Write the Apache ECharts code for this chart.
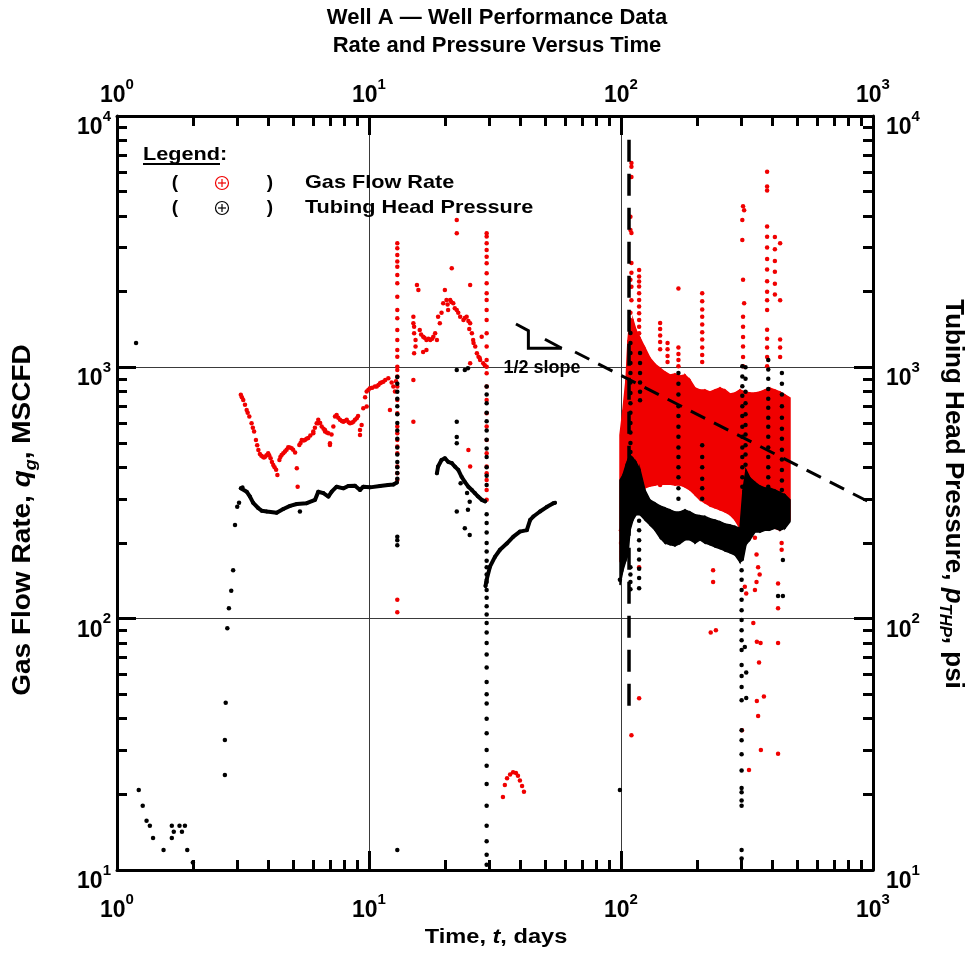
<!DOCTYPE html>
<html><head><meta charset="utf-8">
<script src="https://cdn.jsdelivr.net/npm/echarts@6/dist/echarts.min.js"></script>
<style>html,body{margin:0;padding:0;background:#fff}#c{width:970px;height:956px}</style>
</head><body><div id="c"></div>
<script>
// ---------------- tick values ----------------
const xMajor = [1, 10, 100, 1000];
const xMinor = [2,3,4,5,6,7,8,9,20,30,40,50,60,70,80,90,200,300,400,500,600,700,800,900];
const yMajor = [10, 100, 1000, 10000];
const yMinor = [20,30,40,50,60,70,80,90,200,300,400,500,600,700,800,900,2000,3000,4000,5000,6000,7000,8000,9000];

// ---------------- Gas flow rate (red) ----------------
const rateEarly = [[3.10,777],[3.13,760],[3.17,742],[3.22,710],[3.27,677],[3.30,660],[3.35,637],[3.42,599],[3.46,575],[3.50,555],[3.56,514],[3.60,490],[3.64,469],[3.69,452],[3.74,445],[3.79,441],[3.83,438],[3.87,441],[3.92,447],[3.98,455],[4.02,446],[4.07,435],[4.12,420],[4.17,409],[4.22,400],[4.28,391],[4.33,373],[4.41,428],[4.45,440],[4.50,448],[4.57,455],[4.64,462],[4.71,470],[4.78,481],[4.85,480],[4.93,477],[5.00,470],[5.09,458],[5.17,397],[5.21,335],[5.29,491],[5.35,500],[5.41,514],[5.50,512],[5.57,514],[5.65,520],[5.74,523],[5.85,535],[6.01,555],[6.01,547],[6.10,575],[6.20,599],[6.29,618],[6.29,599],[6.40,600],[6.49,581],[6.60,570],[6.69,555],[6.69,563],[6.80,550],[6.90,547],[7.00,491],[7.00,499],[7.10,540],[7.22,581],[7.33,637],[7.44,646],[7.55,630],[7.67,618],[7.80,612],[7.91,608],[8.00,612],[8.16,618],[8.30,605],[8.41,599],[8.55,602],[8.67,608],[8.80,618],[8.94,627],[9.05,640],[9.21,538],[9.21,563],[9.35,590],[9.49,688],[9.65,760],[9.79,801],[9.79,698],[9.95,815],[10.09,826],[10.3,830],[10.56,838],[10.73,838],[10.9,850],[11.06,864],[11.2,870],[11.40,877],[11.6,890],[11.93,905],[12.11,677],[12.3,870],[12.49,838],[12.68,801],[12.8,880]];
const rateStreak13 = [[12.95,3119],[12.95,2978],[12.95,2800],[12.95,2634],[12.95,2515],[12.95,2332],[12.95,2161],[12.95,1911],[12.95,1692],[12.95,1568],[12.95,1408],[12.95,1285],[12.95,1173],[12.95,1103],[12.95,1006],[12.95,976],[12.95,919],[12.95,838],[12.95,742],[12.95,657],[12.95,581],[12.95,547],[12.95,514],[12.95,484],[12.95,455],[12.95,403],[12.95,379],[12.95,356],[12.95,119],[12.95,106]];
const rateCluster = [[15.0,1591],[15.0,1496],[15.1,1450],[15.1,1367],[15.3,1285],[15.3,1209],[15.1,1138],[15.0,891],[15.0,608],[15.5,2128],[15.7,2032],[15.9,1408],[16.1,1350],[16.4,1324],[16.6,1310],[16.9,1285],[17.2,1300],[17.5,1285],[17.8,1300],[18.0,1324],[18.3,1367],[18.6,1285],[16.4,1152],[16.9,1173],[18.8,1591],[19.1,1496],[19.4,1650],[19.7,1799],[20.0,2032],[20.3,1854],[20.5,1780],[21.0,1854],[21.2,1820],[21.6,1799],[20.6,1692],[21.3,2478],[21.9,1720],[22.3,3417],[22.3,3861],[22.3,1692],[22.6,1650],[23.0,1591],[23.7,1544],[24.0,1570],[24.4,1591],[24.8,1530],[25.0,1420],[25.2,2128],[25.2,1496],[25.6,1367],[25.9,1285],[26.0,1250],[26.4,1209],[26.8,1138],[27.2,1103],[27.5,1090],[28.0,1324],[27.6,1070],[28.4,1038],[28.8,1020],[29.3,1006],[25.2,1038],[24.8,469],[25.2,403]];
const rateStreak29 = [[29.3,3417],[29.3,3312],[29.3,3119],[29.3,2933],[29.3,2757],[29.3,2595],[29.3,2368],[29.3,2161],[29.3,1971],[29.3,1854],[29.3,1692],[29.3,1544],[29.3,1367],[29.3,1209],[29.3,1070],[29.3,947],[29.3,838],[29.3,742],[29.3,657],[29.3,581],[29.3,514],[29.3,455],[29.3,403],[29.3,379],[29.3,356],[29.3,325],[29.3,297]];
const rateArch = [[34.0,19.5],[34.6,21.8],[35.3,23.2],[36.3,24.0],[37.3,24.5],[38.3,24.3],[39.0,23.7],[39.7,22.7],[40.5,21.6],[41.2,20.5]];
// dense period after t = 100 d : envelope of the red cloud
const rateCloudT  = [99.1,101.8,104.7,106.6,108.6,111.6,114.7,119.0,124.5,130.3,136.4,142.8,149.5,156.5,163.8,171.4,179.5,187.8,196.7,205.9,215.4,225.5,236.0,247.2,258.6,270.7,283.5,296.6,310.5,325.0,340.2,356.1,372.7,388.5,408.4,427.6,447.4,468.4];
const rateCloudHi = [538,677,891,1285,1570,1544,1408,1310,1195,1090,1031,994,958,933,941,924,933,891,828,813,813,798,813,828,813,784,791,813,798,791,791,798,813,828,813,798,777,756];
const rateCloudLo = [171,179,197,247,271,297,311,325,331,337,340,343,343,343,340,340,334,325,311,297,289,281,276,271,266,259,247,229,221,225,229,229,233,233,229,225,233,247];
const rateSpikes = [[110,6500],[110,6280],[110,5720],[109,3970],[109,3520],[110,3420],[110,2600],[110,2380],[109,2230],[110,2090],[110,1850],[109,1650],
 [118,2442],[118,2296],[118,2193],[118,2096],[118,1971],[118,1854],[118,1744],[118,1640],[118,1544],[118,1452],[118,1367],[118,1285],[118,1209],[118,1138],[118,1038],[118,947],
 [143,1500],[143,1420],[143,1340],[143,1260],[143,1180],[143,398],[143,340],
 [153,1250],[153,1180],[153,1110],[153,1050],
 [169,2060],[169,1200],[169,1130],[169,1070],[169,1010],[170,356],
 [210,1970],[210,1830],[210,1700],[210,1590],[210,1480],[210,1380],[210,1290],[210,1200],[210,1120],[210,1050],
 [305,4370],[308,4220],[303,3860],[303,3210],[305,2230],[308,1800],[305,1590],[305,1450],[305,1320],[305,1210],[305,1100],[305,1010],
 [380,6000],[380,5240],[380,5050],[380,3630],[380,3310],[380,3000],[380,2700],[380,2450],[380,2200],[380,2000],[380,1850],[380,1690],[380,1410],[380,1300],[380,1200],[380,1100],[380,1010],
 [408,3300],[408,2950],[408,2650],[408,2400],[408,2150],[408,1950],
 [428,3120],[428,1850],[428,1290],[428,1200],[428,1100]];
const rateLowOutliers = [[100,225],[100,200],[101,185],[110,34.4],[118,160],[118,48.2],[232,156],[232,140],[227,88],[238,90],[310,134],[314,126],[335,96],[346,81],[358,80],[353,67],[369,49],[346,47],[350,41],[359,30],[322,25],[302,36],[420,80],[420,29],[420,110],[420,138],[434,200],[434,188],[340,210],[345,180],[350,160],[355,150],[345,140],[340,130]];

// ---------------- Tubing head pressure (black) ----------------
const thpEarly = [[1.19,1250],[1.22,20.8],[1.265,18.0],[1.31,15.7],[1.35,15.0],[1.39,13.4],[1.53,12.0],[1.65,15.0],[1.65,13.4],[1.68,14.2],[1.77,15.0],[1.81,14.2],[1.86,15.0],[1.90,12.0],[2.00,10.7],[2.68,23.9],[2.68,32.9],[2.70,46.3],[2.74,91.6],[2.78,110],[2.84,129],[2.89,156],[2.94,236],[3.00,279],[3.05,289]];
const thpCurveA = [[3.10,330],[3.15,333],[3.27,320],[3.37,306],[3.47,289],[3.64,275],[3.75,269],[3.93,267],[4.30,264],[4.57,273],[4.86,281],[5.17,286],[5.66,288],[6.11,297],[6.29,320],[6.59,316],[6.90,306],[7.11,320],[7.44,335],[7.91,330],[8.28,337],[8.80,338],[9.21,325],[9.49,335],[10.09,333],[11.06,337],[11.9,340],[12.5,342],[12.9,348]];
const thpStreak13 = [[12.95,916],[12.95,860],[12.95,800],[12.95,750],[12.95,700],[12.95,650],[12.95,600],[12.95,560],[12.95,520],[12.95,480],[12.95,450],[12.95,420],[12.95,400],[12.95,380],[12.95,360],[12.95,212],[12.95,205],[12.95,196],[12.95,12]];
const thpCurveB = [[18.6,379],[18.8,403],[19.4,428],[20.0,435],[20.6,421],[21.3,416],[21.9,403],[22.6,391],[23.3,367],[24.0,350],[24.8,335],[25.6,325],[26.3,316],[27.1,306],[28.0,297],[28.9,293]];
const thpOutliers = [[5.32,267],[22.3,976],[24.0,976],[24.7,991],[22.3,608],[22.3,528],[22.3,499],[22.3,267],[24.0,229],[25.1,215],[23.1,346],[24.5,316],[25.1,292],[24.7,271],[99,143],[99,20.8]];
const thpStreak29 = [[29.3,838],[29.3,780],[29.3,720],[29.3,660],[29.3,610],[29.3,560],[29.3,515],[29.3,475],[29.3,440],[29.3,400],[29.3,370],[29.3,340],[29.3,260],[29.3,240],[29.3,220],[29.3,200],[29.3,185],[29.3,170],[29.3,160],[29.3,150],[29.3,140],[29.3,130],[29.3,121],[29.3,112],[29.3,104],[29.3,96],[29.3,88],[29.3,80],[29.3,72],[29.3,64],[29.3,56],[29.3,50],[29.3,46],[29.3,40],[29.3,35],[29.3,30],[29.3,26],[29.3,22],[29.3,18],[29.3,15],[29.3,13],[29.3,11.5],[29.3,10.5]];
const thpCurveC = [[29.0,135],[29.3,143],[30.2,161],[31.6,176],[33.1,188],[35.2,199],[37.4,212],[39.7,222],[42.3,225],[43.6,247],[44.9,255],[47.7,267],[50.7,278],[53.9,288],[54.7,289]];
const thpCloudT  = [99.1,101.8,104.7,106.6,108.6,111.6,114.7,119.0,124.5,130.3,136.4,142.8,149.5,156.5,163.8,171.4,179.5,187.8,196.7,205.9,215.4,225.5,236.0,247.2,258.6,270.7,283.5,296.6,304.9,313.3,325.0,340.2,356.1,372.7,388.5,408.4,427.6,447.4,468.4];
const thpCloudHi = [356,373,409,428,448,435,420,391,325,297,289,281,276,271,266,266,271,266,259,257,255,250,247,243,238,236,233,229,325,391,363,349,337,331,331,325,318,311,297];
const thpCloudLo = [136,156,171,179,225,247,259,259,247,236,225,210,200,197,195,199,206,206,200,206,200,197,193,190,186,183,179,168,171,197,206,221,221,225,225,229,225,229,243];
const thpSpikes = [[109,1370],[109,1250],[109,1140],[109,1040],[109,950],[109,870],[109,790],[109,720],[109,660],[109,600],[109,550],[109,500],[109,460],[109,420],[109,160],[109,150],[109,140],[109,131],
 [119,1140],[119,1040],[119,950],[119,870],[119,800],[119,740],[118,297],[118,270],[118,245],[118,225],[118,205],[118,188],[118,172],[118,158],[118,145],[118,132],
 [169,950],[169,860],[169,780],[169,700],[169,640],[169,580],[169,530],[169,480],[169,440],[169,400],[169,365],[169,330],[169,300],
 [210,490],[210,440],[210,400],[210,360],[210,330],[210,300],
 [303,1010],[303,920],[303,840],[303,770],[303,700],[303,640],[303,580],[303,530],[303,480],[303,440],[303,400],[303,365],[303,335],
 [312,1000],[312,900],[312,800],[312,720],[312,650],[312,590],[312,540],[312,490],[312,450],[312,410],
 [301,156],[301,143],[301,130],[301,119],[301,108],[301,98.7],[301,90],[301,82],[301,75],[301,65.4],[301,59.2],[301,53.5],[301,47.4],[301,36],[301,32.8],[301,28.9],[301,24.9],[301,21.2],[301,20.4],[301,18.9],[301,18.0],[301,12.0],[301,11.1],
 [310,77.2],[314,61],[314,48.4],
 [384,1070],[384,980],[384,900],[384,820],[384,750],[384,690],[384,630],[384,580],[384,530],[384,480],[384,440],[384,400],[384,365],[384,335],
 [435,950],[435,860],[435,780],[435,700],[435,630],[435,570],[435,520],[435,470],[435,430],[435,390],[435,355],[435,325],[439,171],[420,123],[439,123]];

// ---------------- annotations ----------------
const halfSlopeT = [65.7, 1000];
const halfSlopeQ = [1151, 286];
const boundaryT = [107.6, 107.6];
const boundaryQ = [8036, 43.4];
const glyphAT = [38.3, 42.9, 42.9, 58.2];
const glyphAQ = [1488, 1400, 1191, 1191];
const glyphBT = [49.9, 58.2];
const glyphBQ = [1294, 1191];

// ---------------- styling ----------------
const FF = '"Liberation Sans", Arial, Helvetica, sans-serif';
const RED = '#f00000';
const BLK = '#000000';
const zip = (a, b) => a.map((v, i) => [v, b[i]]);

function expLabel(v) { const e = Math.round(Math.log10(v)); return '{b|10}{s|' + e + '}'; }
const labRich = {
  b: {fontFamily: FF, fontWeight: 'bold', fontSize: 23, color: '#000', lineHeight: 30, verticalAlign: 'bottom'},
  s: {fontFamily: FF, fontWeight: 'bold', fontSize: 15, color: '#000', lineHeight: 10, verticalAlign: 'top'}
};

function mkAxis(kind, pos, major) {
  const isX = kind === 'x';
  return {
    type: 'log', logBase: 10,
    min: isX ? 1 : 10, max: isX ? 1000 : 10000,
    position: pos, gridIndex: 0,
    axisLine: {show: major, onZero: false, lineStyle: {color: '#000', width: 3}},
    axisTick: {show: true, inside: true, length: major ? 19 : 10,
      lineStyle: {color: '#000', width: 3},
      customValues: major ? (isX ? xMajor : yMajor) : (isX ? xMinor : yMinor)},
    axisLabel: {show: major, formatter: expLabel, rich: labRich, interval: 0,
      showMinLabel: true, showMaxLabel: true, hideOverlap: false,
      padding: isX ? 0 : [16, 0, 0, 0],
      margin: pos === 'bottom' ? 22 : pos === 'top' ? 9 : pos === 'left' ? 6 : 13,
      customValues: isX ? xMajor : yMajor},
    splitLine: {show: major && (pos === 'bottom' || pos === 'left'), lineStyle: {color: '#3a3a3a', width: 1}},
    minorTick: {show: false}, minorSplitLine: {show: false}
  };
}

function scat(data, color, size, z) {
  return {type: 'scatter', data, symbol: 'circle', symbolSize: size, itemStyle: {color, opacity: 1},
    z, silent: true, animation: false, xAxisIndex: 0, yAxisIndex: 0};
}
function curve(data, color, width, z) {
  return {type: 'line', data, symbol: 'circle', symbolSize: 4, showSymbol: true, itemStyle: {color},
    lineStyle: {color, width, cap: 'round', join: 'round'}, z, silent: true, animation: false, xAxisIndex: 0, yAxisIndex: 0};
}
function band(tArr, loArr, hiArr, color, z) {
  return {type: 'custom', z, silent: true, animation: false, xAxisIndex: 0, yAxisIndex: 0,
    data: tArr.map((t, i) => [t, loArr[i], hiArr[i]]),
    encode: {x: 0, y: [1, 2]},
    renderItem(params, api) {
      const i = params.dataIndex;
      if (i >= tArr.length - 1) return {type: 'group', children: []};
      const a = api.coord([tArr[i], hiArr[i]]);
      const b = api.coord([tArr[i + 1], hiArr[i + 1]]);
      const c = api.coord([tArr[i + 1], loArr[i + 1]]);
      const d = api.coord([tArr[i], loArr[i]]);
      return {type: 'polygon', shape: {points: [a, b, c, d]}, style: {fill: color, stroke: color, lineWidth: 1.5}};
    }};
}
function poly(tArr, qArr, dash, width, z) {
  return {type: 'line', data: zip(tArr, qArr), symbol: 'none',
    lineStyle: {color: '#000', width, type: dash, cap: 'butt', join: 'miter'}, z, silent: true, animation: false, xAxisIndex: 0, yAxisIndex: 0};
}

function txt(x, y, text, size, align, sx) {
  return {type: 'text', x, y, scaleX: sx || 1, silent: true, z: 100,
    style: {text, fontFamily: FF, fontWeight: 'bold', fontSize: size, fill: '#000',
      align: align || 'center', verticalAlign: 'middle', textAlign: align || 'center', textVerticalAlign: 'middle'}};
}
function richName(size) {
  return {
    n: {fontFamily: FF, fontWeight: 'bold', fontSize: size, fill: '#000', color: '#000', lineHeight: size + 8, verticalAlign: 'middle'},
    i: {fontFamily: FF, fontWeight: 'bold', fontStyle: 'italic', fontSize: size, fill: '#000', color: '#000', lineHeight: size + 8, verticalAlign: 'middle'},
    sub: {fontFamily: FF, fontWeight: 'bold', fontStyle: 'italic', fontSize: Math.round(size * 0.65), fill: '#000', color: '#000', lineHeight: Math.round(size * 0.65), verticalAlign: 'bottom'}
  };
}
function nameText(x, y, text, size, rot, sx) {
  return {type: 'text', x, y, rotation: rot, scaleX: sx, silent: true, z: 100,
    style: {text, rich: richName(size), align: 'center', verticalAlign: 'middle', textAlign: 'center', textVerticalAlign: 'middle'}};
}
function legendMark(cx, cy, color) {
  return {type: 'group', x: cx, y: cy, silent: true, children: [
    {type: 'circle', shape: {cx: 0, cy: 0, r: 6.5}, style: {fill: 'none', stroke: color, lineWidth: 1.2}},
    {type: 'line', shape: {x1: -4, y1: 0, x2: 4, y2: 0}, style: {stroke: color, lineWidth: 1.2}},
    {type: 'line', shape: {x1: 0, y1: -4, x2: 0, y2: 4}, style: {stroke: color, lineWidth: 1.2}}
  ]};
}

const LS = 1.14; // horizontal stretch of the legend lettering
const option = {
  backgroundColor: '#ffffff',
  animation: false,
  grid: {left: 117, right: 97, top: 116, bottom: 86, containLabel: false},
  xAxis: [mkAxis('x', 'bottom', true), mkAxis('x', 'bottom', false), mkAxis('x', 'top', true), mkAxis('x', 'top', false)],
  yAxis: [mkAxis('y', 'left', true), mkAxis('y', 'left', false), mkAxis('y', 'right', true), mkAxis('y', 'right', false)],
  series: [
    band(rateCloudT, rateCloudLo, rateCloudHi, RED, 2),
    scat(rateEarly, RED, 4.5, 3),
    scat(rateStreak13, RED, 4.5, 3),
    scat(rateCluster, RED, 4.5, 3),
    scat(rateStreak29, RED, 4.5, 3),
    scat(rateArch, RED, 4.5, 3),
    scat(rateSpikes, RED, 4.5, 3),
    scat(rateLowOutliers, RED, 4.5, 3),
    band(thpCloudT, thpCloudLo, thpCloudHi, BLK, 4),
    curve(thpCurveA, BLK, 4, 5),
    curve(thpCurveB, BLK, 4, 5),
    curve(thpCurveC, BLK, 4, 5),
    scat(thpEarly, BLK, 4.5, 5),
    scat(thpStreak13, BLK, 4.5, 5),
    scat(thpOutliers, BLK, 4.5, 5),
    scat(thpStreak29, BLK, 4.5, 5),
    scat(thpSpikes, BLK, 4.5, 5),
    poly(halfSlopeT, halfSlopeQ, [16, 10], 3, 6),
    poly(boundaryT, boundaryQ, [22, 12], 3.5, 6),
    poly(glyphAT, glyphAQ, 'solid', 3, 6),
    poly(glyphBT, glyphBQ, 'solid', 3, 6)
  ],
  graphic: [
    txt(497, 18, 'Well A \u2014 Well Performance Data', 22),
    txt(497, 46, 'Rate and Pressure Versus Time', 22),
    nameText(496, 937, '{n|Time, }{i|t}{n|, days}', 20, 0, 1.18),
    nameText(23, 520, '{n|Gas Flow Rate, }{i|q}{sub|g}{n|, MSCFD}', 25, Math.PI / 2, 1.12),
    nameText(953, 494, '{n|Tubing Head Pressure, }{i|p}{sub|THP}{n|, psi}', 25, -Math.PI / 2, 1.04),
    txt(542, 368, '1/2 slope', 18),
    txt(143, 155, 'Legend', 19, 'left', LS),
    txt(220, 155, ':', 19, 'left', LS),
    {type: 'line', silent: true, shape: {x1: 143, y1: 164, x2: 220, y2: 164}, style: {stroke: '#000', lineWidth: 2}},
    txt(175, 183, '(', 19), txt(270, 183, ')', 19), legendMark(222, 183, RED),
    txt(305, 183, 'Gas Flow Rate', 19, 'left', LS),
    txt(175, 208, '(', 19), txt(270, 208, ')', 19), legendMark(222, 208, BLK),
    txt(305, 208, 'Tubing Head Pressure', 19, 'left', LS)
  ]
};

const chart = echarts.init(document.getElementById('c'), null, {renderer: 'canvas', width: 970, height: 956});
chart.setOption(option);
</script>
</body></html>
